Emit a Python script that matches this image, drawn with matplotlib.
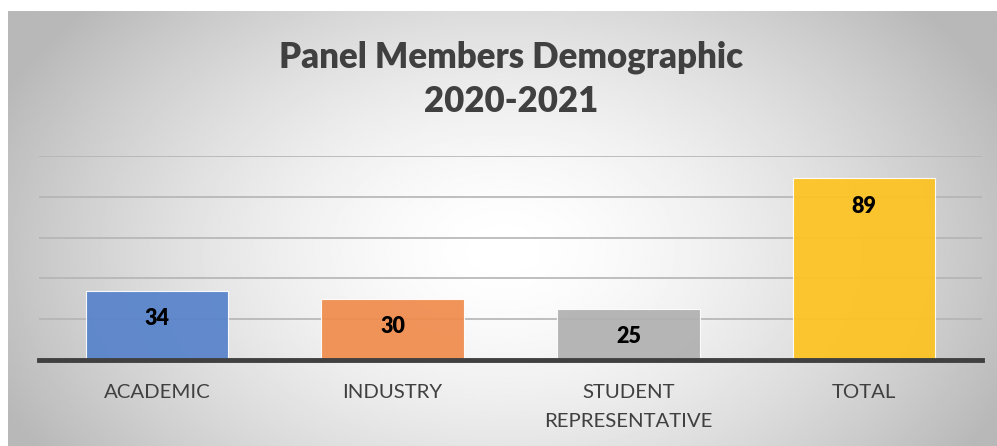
import matplotlib.pyplot as plt
import numpy as np

categories = ["ACADEMIC", "INDUSTRY", "STUDENT\nREPRESENTATIVE", "TOTAL"]
members = [34, 30, 25, 89]
bar_colors = ["#5682cb", "#f08b4c", "#b0b0b0", "#fdc31f"]

TITLE = "Panel Members Demographic\n2020-2021"

W, H = 997, 446
DPI = 100

fig = plt.figure(figsize=(W / DPI, H / DPI), dpi=DPI)
fig.patch.set_facecolor("white")

# radial grey-to-white backdrop for the chart box
box = [8 / W, 0, (W - 8) / W, (H - 11) / H]
bg = fig.add_axes(box, zorder=0)
yy, xx = np.mgrid[0:1:300j, 0:1:600j]
dist = np.sqrt(((xx - 0.5) / 0.62) ** 2 + ((yy - 0.55) / 0.95) ** 2)
shade = np.clip(1.0 - 0.33 * dist ** 1.6, 0.72, 1.0)
bg.imshow(shade, cmap="gray", vmin=0, vmax=1, aspect="auto",
          extent=[0, 1, 0, 1], interpolation="bilinear")
bg.set_axis_off()

# plot area in pixel coords: x 39..982, baseline y 360, 100 at y 156
left, right = 39, 982
bottom_px, top_px = 360, 156
ax = fig.add_axes([left / W, (H - bottom_px) / H,
                   (right - left) / W, (bottom_px - top_px) / H], zorder=1)
ax.patch.set_alpha(0)

x = np.arange(len(categories))
ax.set_xlim(-0.5, len(categories) - 0.5)
ax.set_ylim(0, 100)

for y in range(20, 101, 20):
    ax.axhline(y, color="#b4b4b4", lw=1.2, zorder=1)

bars = ax.bar(x, members, width=0.605, color=bar_colors, alpha=0.92,
              edgecolor="#ffffff", linewidth=0.8, zorder=2)

for rect, val in zip(bars, members):
    ax.annotate(str(val), (rect.get_x() + rect.get_width() / 2, val),
                xytext=(0, -20), textcoords="offset points",
                ha="center", va="center", fontsize=15.5, fontweight="heavy",
                family="Lato", color="black", zorder=3)

ax.axhline(0, color="#404040", lw=3.5, zorder=3, clip_on=False)

for xi, name in zip(x, categories):
    ax.text(xi, -11.8, name, ha="center", va="top", fontsize=14.7,
            family="Lato", color="#404040", linespacing=1.85)

for s in ax.spines.values():
    s.set_visible(False)
ax.set_xticks([])
ax.set_yticks([])

fig.text(511 / W, 1 - 79 / H, TITLE, ha="center", va="center",
         fontsize=25, fontweight="heavy", family="Lato", color="#404040",
         linespacing=1.42)

fig.savefig("out.png", dpi=DPI, facecolor="white")
